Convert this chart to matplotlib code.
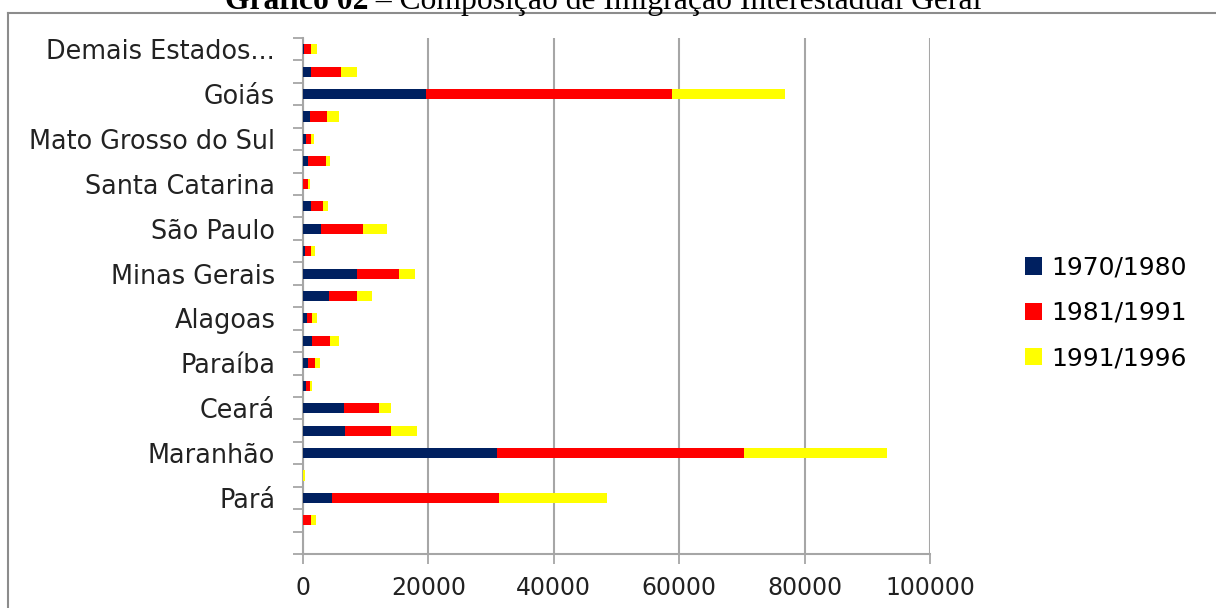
import numpy as np
import matplotlib
matplotlib.use("Agg")
import matplotlib.pyplot as plt
from matplotlib.lines import Line2D

# categories from bottom to top (first row is empty in the original)
estados = ["", "Amapá", "Pará", "Tocantins", "Maranhão", "Piauí", "Ceará",
           "Rio Grande do Norte", "Paraíba", "Pernambuco", "Alagoas", "Bahia",
           "Minas Gerais", "Rio de Janeiro", "São Paulo", "Paraná",
           "Santa Catarina", "Rio Grande do Sul", "Mato Grosso do Sul",
           "Mato Grosso", "Goiás", "Distrito Federal", "Demais Estados..."]

periodos = ["1970/1980", "1981/1991", "1991/1996"]

p_1970_1980 = [0, 0, 4630, 0, 30880, 6750, 6540, 530, 800, 1490, 590, 4150,
               8660, 370, 2920, 1280, 0, 800, 530, 1060, 19680, 1280, 200]
p_1981_1991 = [0, 1280, 26670, 0, 39470, 7340, 5630, 530, 1170, 2870, 900, 4460,
               6650, 910, 6650, 1910, 800, 2870, 750, 2820, 39250, 4730, 1130]
p_1991_1996 = [0, 740, 17130, 320, 22820, 4040, 1920, 430, 740, 1430, 690, 2390,
               2550, 690, 3770, 740, 260, 690, 470, 1920, 17870, 2600, 900]

cores = ["#002060", "#FF0000", "#FFFF00"]
cinza = "#A6A6A6"
fonte = "DejaVu Sans"

fig = plt.figure(figsize=(12.16, 6.08), dpi=100)
ax = fig.add_axes([303 / 1216, 1 - 554 / 608, (930 - 303) / 1216, (554 - 38) / 608])

y = np.arange(len(estados))
base = np.zeros(len(estados))
for serie, nome, cor in zip([p_1970_1980, p_1981_1991, p_1991_1996], periodos, cores):
    ax.barh(y, serie, left=base, height=0.45, color=cor, label=nome, zorder=3)
    base = base + np.array(serie)

ax.set_xlim(0, 100000)
ax.set_ylim(-0.5, len(estados) - 0.5)
ax.set_xticks(np.arange(0, 100001, 20000))
ax.set_xticklabels([str(v) for v in range(0, 100001, 20000)], fontsize=17, family=fonte, color="#222222")
ax.tick_params(axis="x", length=7, width=1.3, color=cinza, pad=9)
ax.grid(axis="x", color=cinza, linewidth=1.5, zorder=0)

# tick marks between categories, labels on every other category
ax.set_yticks(np.arange(-0.5, len(estados), 1.0))
ax.set_yticklabels([])
ax.tick_params(axis="y", which="major", length=7, width=1.3, color=cinza)
ax.set_yticks(y[::2], minor=True)
ax.set_yticklabels(estados[::2], minor=True, fontsize=18.4, family=fonte, color="#222222")
ax.tick_params(axis="y", which="minor", length=0, pad=20)

for lado in ["top", "right"]:
    ax.spines[lado].set_visible(False)
for lado in ["left", "bottom"]:
    ax.spines[lado].set_color(cinza)
    ax.spines[lado].set_linewidth(1.5)

fig.legend(loc="center left", bbox_to_anchor=(1025 / 1216, 1 - 313 / 608),
           frameon=False, prop={"family": fonte, "size": 18},
           handlelength=0.68, handleheight=0.68, handletextpad=0.35,
           labelspacing=0.85, borderpad=0, borderaxespad=0)

# outer frame of the original figure
fig.add_artist(Line2D([8 / 1216, 8 / 1216], [0, 1 - 13 / 608], transform=fig.transFigure, color="#8C8C8C", lw=1.5))
fig.add_artist(Line2D([8 / 1216, 1], [1 - 13 / 608, 1 - 13 / 608], transform=fig.transFigure, color="#8C8C8C", lw=1.5))

# title, partly cut at the top in the original
t1 = fig.text(225 / 1216, 1 - 9 / 608, "Gráfico 02", family="Liberation Serif",
              fontsize=22.8, fontweight="bold", va="baseline", ha="left")
fig.canvas.draw()
bb = t1.get_window_extent(renderer=fig.canvas.get_renderer())
fig.text(bb.x1 / 1216, 1 - 9 / 608, " – Composição de Imigração Interestadual Geral",
         family="Liberation Serif", fontsize=22.8, va="baseline", ha="left")

fig.savefig("out.png", dpi=100)
